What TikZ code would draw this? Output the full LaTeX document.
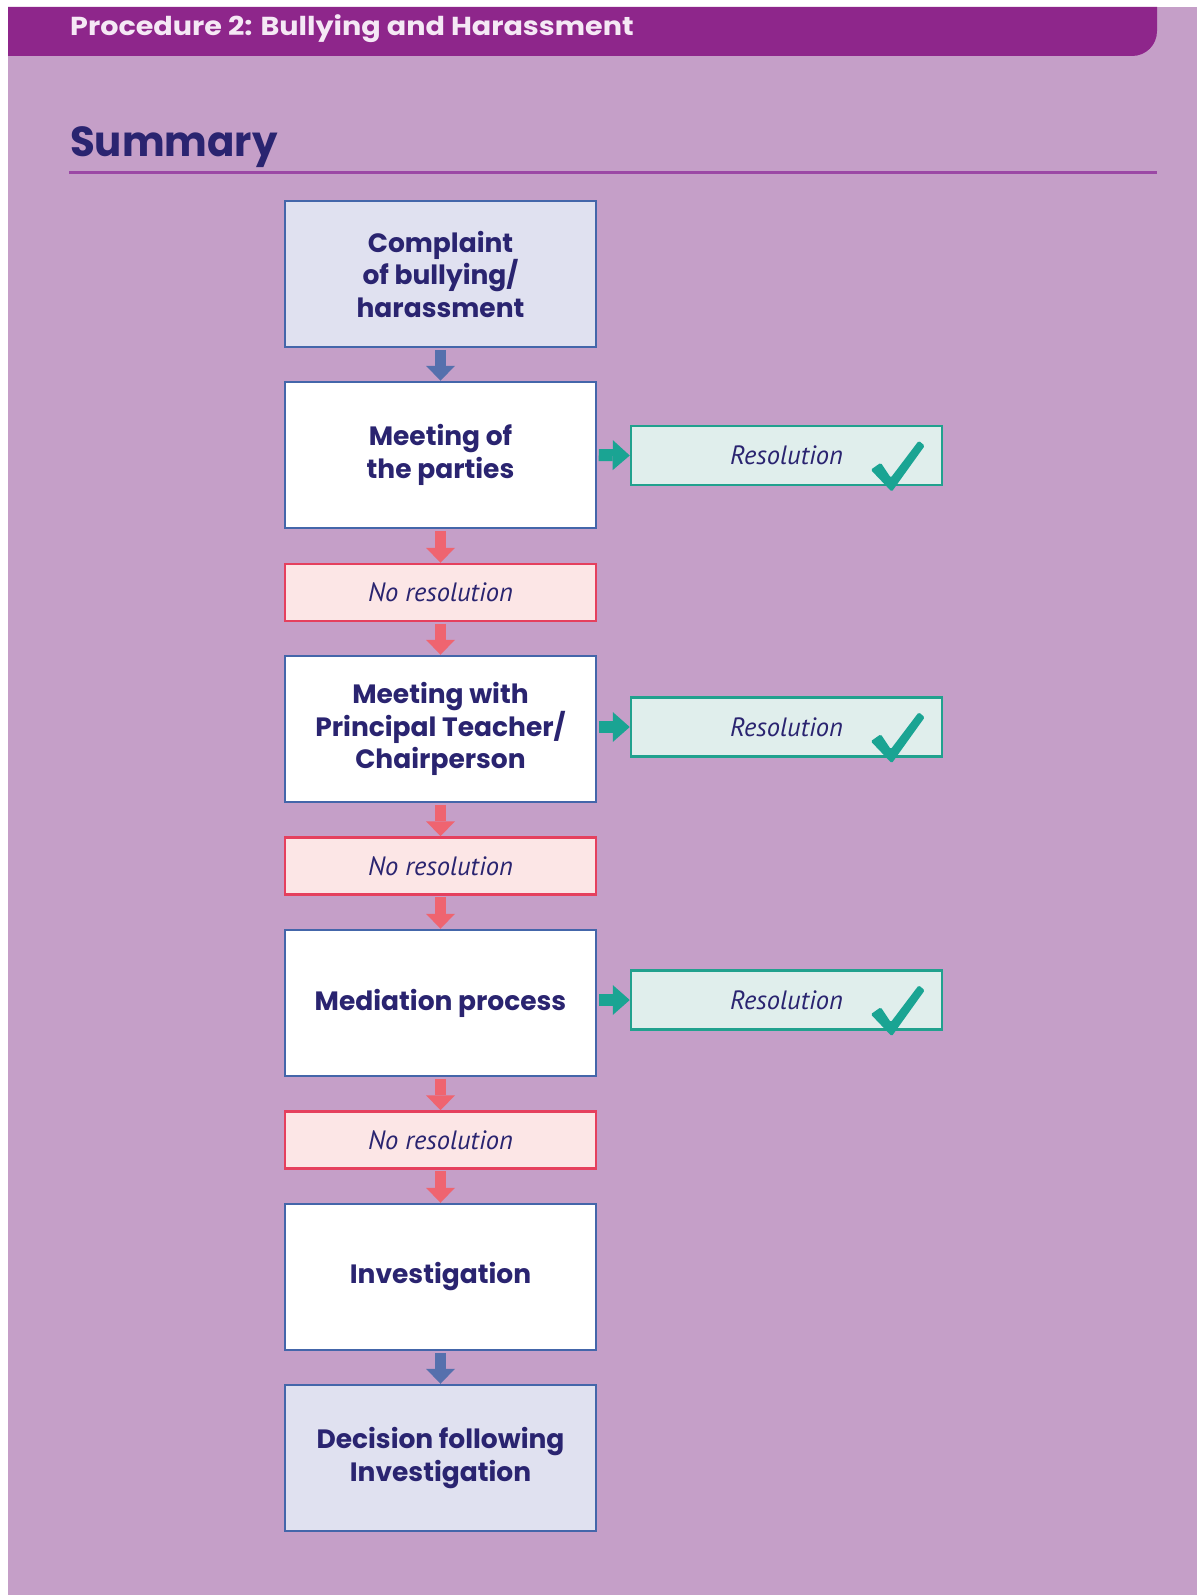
\documentclass[tikz,border=0pt]{standalone}
\usepackage{fontspec}
\setmainfont{Poppins}
\newfontfamily\itfont{PT Sans}
\usetikzlibrary{arrows.meta}
\definecolor{bg}{HTML}{C59FC8}
\definecolor{hdr}{HTML}{8E268B}
\definecolor{hdrtext}{HTML}{F5E8F5}
\definecolor{navy}{HTML}{2A2470}
\definecolor{rulec}{HTML}{9B48A5}
\definecolor{boxblue}{HTML}{4466AA}
\definecolor{lav}{HTML}{E0E1F0}
\definecolor{redb}{HTML}{E5405E}
\definecolor{pinkf}{HTML}{FCE6E6}
\definecolor{reda}{HTML}{EF6470}
\definecolor{tealb}{HTML}{21A18E}
\definecolor{mintf}{HTML}{E0EEEC}
\definecolor{teala}{HTML}{1AA493}
\definecolor{bluea}{HTML}{5570AD}
\tikzset{
  bigbox/.style={draw=boxblue, fill=white, line width=2.5pt, minimum width=311pt, minimum height=146pt,
    inner sep=0pt, align=center, text=navy, font=\bfseries\fontsize{26.5}{32.5}\selectfont},
  nobox/.style={draw=redb, fill=pinkf, line width=2.5pt, minimum width=311pt, minimum height=57pt,
    inner sep=0pt, text=navy, font=\itfont\itshape\fontsize{26.5}{30}\selectfont},
  resbox/.style={draw=tealb, fill=mintf, line width=2.5pt, minimum width=311pt, minimum height=59pt,
    inner sep=0pt, text=navy, font=\itfont\itshape\fontsize{26.5}{30}\selectfont},
  barrow/.style={draw=bluea, line width=11pt, shorten <=1.5pt, -{Triangle[width=29pt,length=15pt,line width=0pt]}},
  rarrow/.style={draw=reda, line width=11pt, shorten <=1.5pt, -{Triangle[width=29pt,length=15pt,line width=0pt]}},
  garrow/.style={draw=teala, line width=12pt, shorten <=1.5pt, -{Triangle[width=30pt,length=17pt,line width=0pt]}},
}
\newcommand{\chk}[1]{%
  \fill[teala, rounded corners=1.5pt] ([shift={(241,45)}]#1.north west) -- ([shift={(251,38)}]#1.north west)
    -- ([shift={(261,53)}]#1.north west) -- ([shift={(289,16)}]#1.north west)
    -- ([shift={(295,21)}]#1.north west) -- ([shift={(262,67)}]#1.north west) -- cycle;}
\begin{document}
\begin{tikzpicture}[x=1pt,y=-1pt]
\useasboundingbox (0,0) rectangle (1197,1595);
\fill[white] (0,0) rectangle (1197,1595);
\fill[bg] (8,7) rectangle (1197,1595);
\fill[hdr] (8,7) -- (1157,7) -- (1157,31) .. controls (1157,45) and (1146,56) .. (1132,56) -- (8,56) -- cycle;
\node[anchor=base west, inner sep=0pt, text=hdrtext, font=\bfseries\fontsize{26}{30}\selectfont] (title) at (70,36) {\scalebox{1.1}[1]{Procedure 2: Bullying and Harassment}};
\node[anchor=base west, inner sep=0pt, text=navy, font=\bfseries\fontsize{42}{50}\selectfont] (summary) at (70,156) {\scalebox{0.96}[1]{Summary}};
\draw[rulec, line width=3pt] (69,172) -- (1157,172);

\node[bigbox, fill=lav] (b1) at (440.5,274) {Complaint\\of bullying/\\harassment};
\node[bigbox] (b2) at (440.5,455) {Meeting of\\the parties};
\node[nobox] (n1) at (440.5,592.5) {No resolution};
\node[bigbox] (b3) at (440.5,729) {Meeting with\\Principal Teacher/\\Chairperson};
\node[nobox] (n2) at (440.5,866) {No resolution};
\node[bigbox] (b4) at (440.5,1003) {Mediation process};
\node[nobox] (n3) at (440.5,1140) {No resolution};
\node[bigbox] (b5) at (440.5,1277) {Investigation};
\node[bigbox, fill=lav] (b6) at (440.5,1458) {Decision following\\Investigation};

\node[resbox] (r1) at (786.5,455.5) {Resolution};
\node[resbox] (r2) at (786.5,727) {Resolution};
\node[resbox] (r3) at (786.5,1000) {Resolution};
\chk{r1}\chk{r2}\chk{r3}

\draw[barrow] (b1.south) -- (b2.north);
\draw[rarrow] (b2.south) -- (n1.north);
\draw[rarrow] (n1.south) -- (b3.north);
\draw[rarrow] (b3.south) -- (n2.north);
\draw[rarrow] (n2.south) -- (b4.north);
\draw[rarrow] (b4.south) -- (n3.north);
\draw[rarrow] (n3.south) -- (b5.north);
\draw[barrow] (b5.south) -- (b6.north);
\draw[garrow] (b2.east) -- (r1.west);
\draw[garrow] (b3.east |- r2.west) -- (r2.west);
\draw[garrow] (b4.east |- r3.west) -- (r3.west);
\end{tikzpicture}
\end{document}
